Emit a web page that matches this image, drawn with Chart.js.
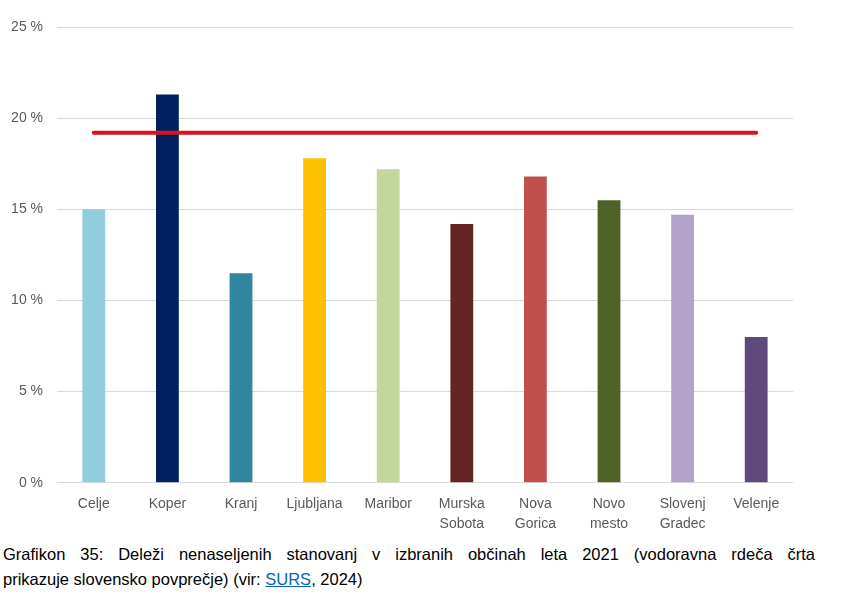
<!DOCTYPE html>
<html>
<head>
<meta charset="utf-8">
<script src="https://cdn.jsdelivr.net/npm/chart.js@4"></script>
<style>
    html, body { margin: 0; padding: 0; background: #fff; }
    #wrap { position: relative; width: 841px; height: 542px; }
    .caption {
        font-family: "Liberation Sans", Arial, sans-serif;
        font-size: 16.5px;
        color: #000;
        width: 812px;
        margin-left: 3px;
        line-height: 25px;
        position: relative;
    }
    .caption .l1 { text-align: justify; text-align-last: justify; }
    .caption a { color: #0563c1; text-decoration: underline; }
</style>
</head>
<body>
<div id="wrap"><canvas id="grafikon"></canvas></div>
<div class="caption">
    <div class="l1">Grafikon 35: Deleži nenaseljenih stanovanj v izbranih občinah leta 2021 (vodoravna rdeča črta</div>
    <div>prikazuje slovensko povprečje) (vir: <a href="#">SURS</a>, 2024)</div>
</div>
<script>
// Občine
const obcine = ['Celje', 'Koper', 'Kranj', 'Ljubljana', 'Maribor', ['Murska', 'Sobota'], ['Nova', 'Gorica'], ['Novo', 'mesto'], ['Slovenj', 'Gradec'], 'Velenje'];

// Delež nenaseljenih stanovanj (%)
const delezi = [15.0, 21.3, 11.5, 17.8, 17.2, 14.2, 16.8, 15.5, 14.7, 8.0];

// Slovensko povprečje (%)
const povprecje = [19.2, 19.2, 19.2, 19.2, 19.2, 19.2, 19.2, 19.2, 19.2, 19.2];

// Osne oznake
const yTicks = [0, 5, 10, 15, 20, 25];

const barve = ['#92cddc', '#002060', '#31859c', '#ffc000', '#c3d69b', '#632523', '#c0504d', '#4f6228', '#b3a2c7', '#604a7b'];

document.addEventListener('DOMContentLoaded', () => {
    const ctx = document.getElementById('grafikon').getContext('2d');
    const pisava = { family: '"Liberation Sans", Arial, sans-serif', size: 14, lineHeight: 1.4 };

    new Chart(ctx, {
        type: 'bar',
        data: {
            labels: obcine,
            datasets: [
                {
                    type: 'line',
                    label: 'Slovensko povprečje',
                    data: povprecje,
                    borderColor: '#d7141c',
                    borderWidth: 4,
                    borderCapStyle: 'round',
                    pointRadius: 0,
                    order: 0
                },
                {
                    label: 'Delež',
                    data: delezi,
                    backgroundColor: barve,
                    borderWidth: 0,
                    barPercentage: 0.62,
                    categoryPercentage: 0.5,
                    order: 1
                }
            ]
        },
        options: {
            responsive: true,
            maintainAspectRatio: false,
            animation: false,
            layout: { padding: { top: 27, right: 48, left: 8, bottom: 4 } },
            scales: {
                y: {
                    min: 0,
                    max: 25,
                    afterBuildTicks: scale => { scale.ticks = yTicks.map(v => ({ value: v })); },
                    afterFit: scale => { scale.width = 49; },
                    ticks: {
                        callback: v => v + ' %',
                        color: '#595959',
                        font: pisava,
                        padding: 14
                    },
                    grid: { color: '#d9d9d9', lineWidth: 1, drawTicks: false },
                    border: { display: false }
                },
                x: {
                    ticks: { color: '#595959', font: pisava, padding: 4, maxRotation: 0 },
                    grid: { display: false },
                    border: { display: false }
                }
            },
            plugins: {
                legend: { display: false },
                tooltip: { enabled: false }
            }
        }
    });
});
</script>
</body>
</html>
